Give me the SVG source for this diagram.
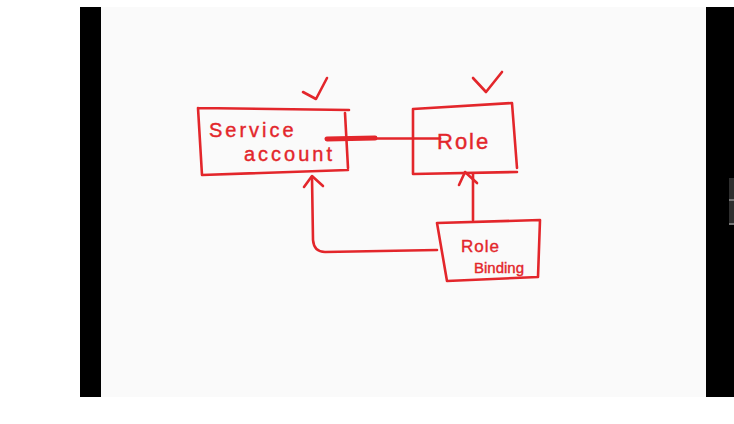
<svg xmlns="http://www.w3.org/2000/svg" width="734" height="424" viewBox="0 0 734 424">
<defs>
<style>
.ink{fill:none;stroke:#e3262b;stroke-width:2.6;stroke-linecap:round;stroke-linejoin:round}
.lbl{fill:#e3262b;font-family:"Liberation Sans",Arial,sans-serif;stroke:#e3262b;stroke-width:0.4}
</style>
</defs>
<rect x="0" y="0" width="734" height="424" fill="#ffffff"/>
<rect x="101" y="7" width="605" height="390" fill="#fafafa"/>
<rect x="80" y="7" width="21" height="390" fill="#000000"/>
<rect x="706" y="7" width="28" height="390" fill="#000000"/>
<rect x="729" y="178" width="5" height="47" fill="#2e2e2e"/>
<rect x="729" y="199" width="5" height="2" fill="#777777"/>
<rect x="729" y="223" width="5" height="2" fill="#777777"/>

<g id="connectors">
<path class="ink" d="M327 139 L375 138" style="stroke-width:5"/>
<path class="ink" d="M375 138.5 L440 138.5"/>
<path class="ink" d="M473 220 L473 174"/>
<path class="ink" d="M459 185 L465 172 L477 183"/>
<path class="ink" d="M437 250 L325 252 Q314 252 313 240 L312 177"/>
<path class="ink" d="M304 187 L312 176 L323 186"/>
</g>

<g id="service-account">
<path class="ink" d="M198 108 L349 110 M345 113 L348 168 M198 108 L202 175 L348 170"/>
<path class="ink" d="M303 92 L316 99 L327 78"/>
<text class="lbl" x="209" y="137" font-size="20" letter-spacing="3">Service</text>
<text class="lbl" x="244" y="161" font-size="20" letter-spacing="3">account</text>
</g>

<g id="role">
<path class="ink" d="M413 109 L512 103 L517 168 M413 109 L413 174 L517 172"/>
<path class="ink" d="M473 78 L486 92 L502 72"/>
<text class="lbl" x="437" y="149" font-size="22" letter-spacing="2">Role</text>
</g>

<g id="role-binding">
<path class="ink" d="M437 223 L540 220 L538 277 L447 281 L437 223"/>
<text class="lbl" x="461" y="252" font-size="17" letter-spacing="1">Role</text>
<text class="lbl" x="474" y="273" font-size="15">Binding</text>
</g>
</svg>
